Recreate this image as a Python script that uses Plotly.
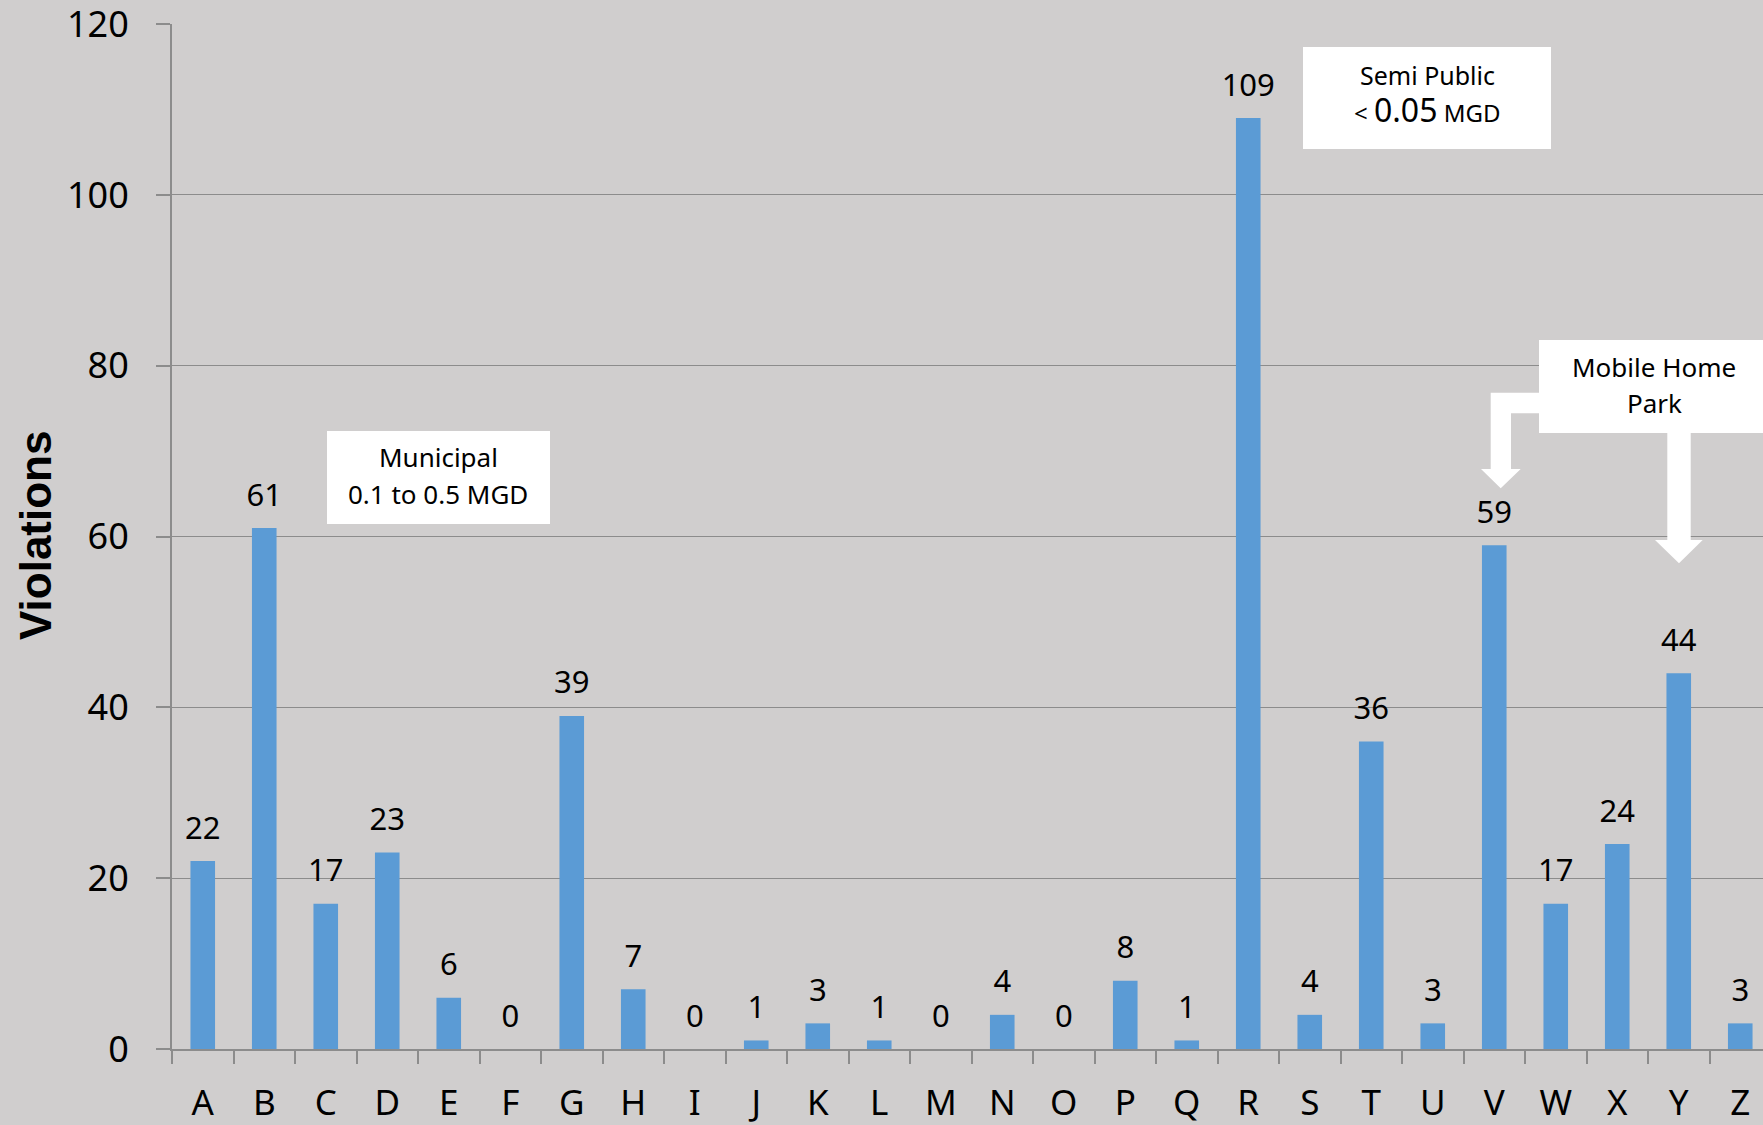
import plotly.graph_objects as go

# Violations per water system
systems = list("ABCDEFGHIJKLMNOPQRSTUVWXYZ")
violations = [22, 61, 17, 23, 6, 0, 39, 7, 0, 1, 3, 1, 0, 4, 0, 8, 1, 109, 4, 36, 3, 59, 17, 24, 44, 3]
y_ticks = [0, 20, 40, 60, 80, 100, 120]

W, H = 1763, 1125
L, R, T, B = 172, 0, 24, 76
BG = "#D0CECE"
BAR = "#5B9BD5"
GRID = "#8C8C8C"
FONT = "Noto Sans"


def px(x, y):
    """Pixel position on the page -> paper coordinates."""
    return (x - L) / (W - L - R), (H - B - y) / (H - T - B)


def path(points):
    parts = []
    for i, (x, y) in enumerate(points):
        u, v = px(x, y)
        parts.append(("M" if i == 0 else "L") + f"{u:.5f},{v:.5f}")
    return " ".join(parts) + " Z"


def rect(x0, y0, x1, y1):
    u0, v0 = px(x0, y1)
    u1, v1 = px(x1, y0)
    return dict(type="rect", xref="paper", yref="paper", x0=u0, y0=v0, x1=u1, y1=v1,
                fillcolor="white", line=dict(width=0), layer="above")


def label(x, y, text, size=26):
    u, v = px(x, y)
    return dict(xref="paper", yref="paper", x=u, y=v, text=text, showarrow=False,
                xanchor="center", yanchor="middle", font=dict(family=FONT, size=size, color="black"))


fig = go.Figure()
fig.add_trace(go.Bar(x=systems, y=violations, marker_color=BAR, width=0.4,
                     marker_line_width=0, hoverinfo="x+y"))
# value labels above each bar
fig.add_trace(go.Scatter(x=systems, y=violations, mode="markers+text",
                         text=[str(v) for v in violations], textposition="top center",
                         marker=dict(size=22, opacity=0), hoverinfo="skip",
                         textfont=dict(family=FONT, size=31, color="black"),
                         cliponaxis=False))

annotations = []

# Axis title
annotations.append(dict(xref="paper", yref="paper", x=px(35, 0)[0], y=px(0, 536)[1],
                        text="<b>Violations</b>", textangle=-90, showarrow=False,
                        xanchor="center", yanchor="middle",
                        font=dict(family="Liberation Sans", size=44, color="black")))

# Category callouts
annotations += [
    label(438, 457, "Municipal"),
    label(438, 494, "0.1 to 0.5 MGD"),
    label(1427, 75, "Semi Public", size=25),
    label(1427, 110, "&lt; <span style='font-size:32px'>0.05</span> MGD", size=24),
    label(1654, 367, "Mobile Home"),
    label(1654, 403, "Park"),
]

shapes = [
    rect(327, 431, 550, 524),
    rect(1303, 47, 1551, 149),
    rect(1539, 340, 1775, 433),
    # elbow arrow pointing to V
    dict(type="path", xref="paper", yref="paper", fillcolor="white", line=dict(width=0),
         path=path([(1540, 392.7), (1490.7, 392.7), (1490.7, 469), (1481, 469), (1500.7, 488.3),
                    (1520.7, 469), (1511, 469), (1511, 413.3), (1540, 413.3)])),
    # straight arrow pointing to Y
    dict(type="path", xref="paper", yref="paper", fillcolor="white", line=dict(width=0),
         path=path([(1667.3, 432), (1667.3, 540), (1655, 540), (1679, 563.3), (1702.7, 540),
                    (1690.7, 540), (1690.7, 432)])),
]

fig.update_layout(
    width=W, height=H,
    margin=dict(l=L, r=R, t=T, b=B, pad=0, autoexpand=False),
    paper_bgcolor=BG, plot_bgcolor=BG,
    showlegend=False,
    bargap=0.6,
    annotations=annotations,
    shapes=shapes,
    font=dict(family=FONT, color="black"),
)

cat_w = 61.5
x_end = -0.5 + (W - L - R) / cat_w

fig.update_xaxes(
    range=[-0.5, x_end], tickson="boundaries", ticks="outside", ticklen=13, tickwidth=2,
    tickcolor=GRID, showline=True, linecolor=GRID, linewidth=2, showgrid=False,
    tickfont=dict(family=FONT, size=35, color="black"), ticklabelstandoff=22,
    automargin=False,
)
fig.update_yaxes(
    range=[0, 120.02], tickvals=y_ticks, ticks="outside", ticklen=14, tickwidth=2,
    tickcolor=GRID, showline=True, linecolor=GRID, linewidth=2,
    showgrid=True, gridcolor=GRID, gridwidth=1, zeroline=False,
    tickfont=dict(family=FONT, size=36, color="black"), ticklabelstandoff=20,
    ticklabeloverflow="allow", automargin=False,
)

fig.write_html("out.html")
